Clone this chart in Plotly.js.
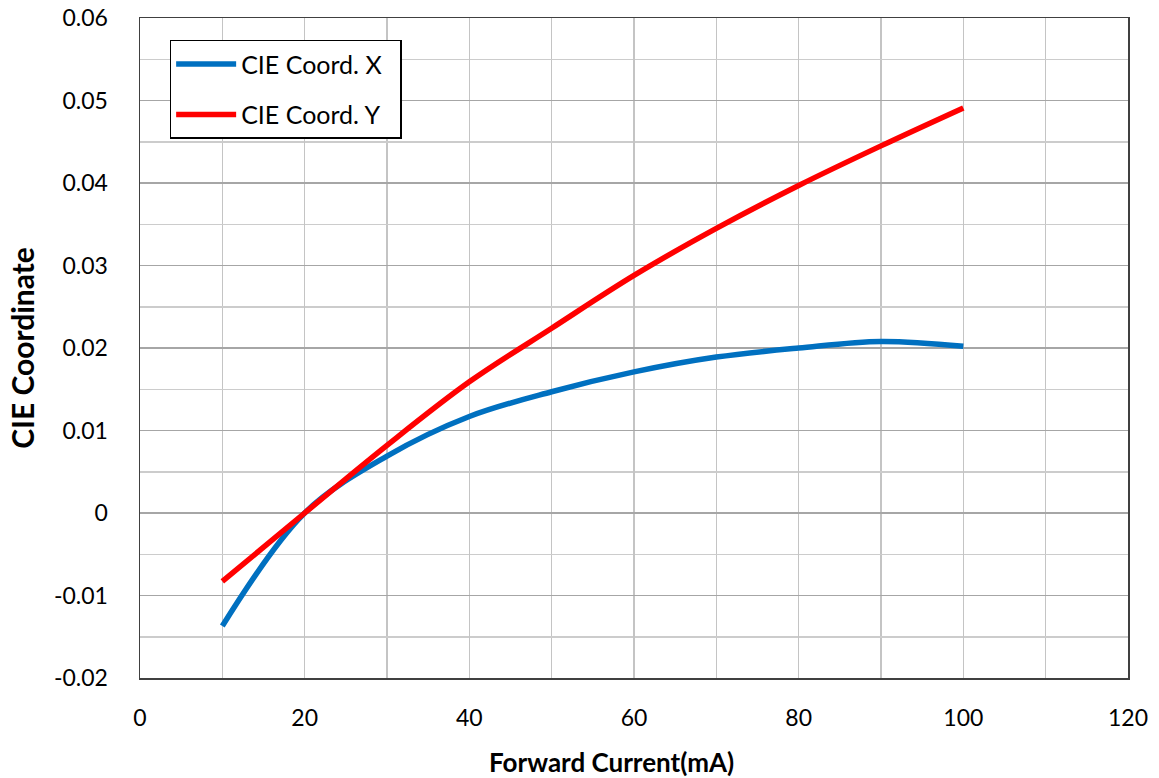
<!DOCTYPE html>
<html>
<head>
<meta charset="utf-8">
<script src="https://cdn.plot.ly/plotly-3.0.1.min.js"></script>
<style>html,body{margin:0;padding:0;background:#fff;}#chart{width:1159px;height:778px;}</style>
</head>
<body>
<div id="chart"></div>
<script>
const current = [10, 20, 30, 40, 50, 60, 70, 80, 90, 100];
const cieX = [-0.0137, 0.0, 0.0069, 0.0117, 0.0147, 0.0171, 0.0189, 0.0200, 0.0208, 0.0202];
const cieY = [-0.0083, 0.0, 0.0082, 0.0159, 0.0224, 0.0288, 0.0345, 0.0397, 0.0445, 0.0491];
const seriesNames = ["CIE Coord. X", "CIE Coord. Y"];
const yTickVals = [-0.02, -0.01, 0, 0.01, 0.02, 0.03, 0.04, 0.05, 0.06];
const yTickText = ["-0.02", "-0.01", "0", "0.01", "0.02", "0.03", "0.04", "0.05", "0.06"];
const xTickVals = [0, 20, 40, 60, 80, 100, 120];
const xTickText = ["0", "20", "40", "60", "80", "100", "120"];
const xTitle = "Forward Current(mA)";
const yTitle = "CIE Coordinate";

const font = "Lato, 'Open Sans', sans-serif";
const pad = "\u00a0\u00a0";
const traces = [
  {x: current, y: cieX, name: seriesNames[0] + pad, mode: "lines", legendgroup: "a",
   line: {color: "#0070C0", width: 5.5, shape: "spline", smoothing: 1}},
  {x: current, y: cieY, name: seriesNames[1] + pad, mode: "lines", legendgroup: "b",
   line: {color: "#FF0000", width: 5.5, shape: "spline", smoothing: 1}}
];
const layout = {
  width: 1159, height: 778,
  margin: {l: 140, r: 31, t: 18, b: 100},
  paper_bgcolor: "#fff", plot_bgcolor: "#fff",
  font: {family: font, size: 23, color: "#000"},
  showlegend: true,
  legend: {x: 0.03, y: 0.967, xanchor: "left", yanchor: "top",
    bgcolor: "#fff", bordercolor: "#000", borderwidth: 1.5,
    font: {family: font, size: 25, color: "#000"}, itemwidth: 60, tracegroupgap: 15},
  xaxis: {
    range: [0, 120], tickvals: xTickVals, ticktext: xTickText,
    showgrid: true, gridcolor: "#c4c4c4", gridwidth: 1.5,
    minor: {dtick: 10, showgrid: true, gridcolor: "#c4c4c4", gridwidth: 1.5},
    showline: true, linecolor: "#404040", linewidth: 1.5, mirror: true,
    zeroline: false, ticks: "", ticklabelstandoff: 19,
    tickfont: {family: font, size: 23, color: "#000"}
  },
  yaxis: {
    range: [-0.02, 0.06], tickvals: yTickVals, ticktext: yTickText,
    showgrid: true, gridcolor: "#a6a6a6", gridwidth: 1.5,
    minor: {dtick: 0.005, showgrid: true, gridcolor: "#cccccc", gridwidth: 1.5},
    showline: true, linecolor: "#404040", linewidth: 1.5, mirror: true,
    zeroline: false, ticks: "", ticklabelstandoff: 26,
    tickfont: {family: font, size: 23, color: "#000"},
    title: {text: yTitle, font: {family: font, size: 30, color: "#000", weight: "bold"}, standoff: 10}
  },
  annotations: [
    {text: xTitle, xref: "paper", yref: "paper", x: 0.4777, y: -0.127,
     xanchor: "center", yanchor: "middle", showarrow: false,
     font: {family: font, size: 26, color: "#000", weight: "bold"}}
  ]
};
Plotly.newPlot("chart", traces, layout, {displayModeBar: false, staticPlot: true});
</script>
</body>
</html>
